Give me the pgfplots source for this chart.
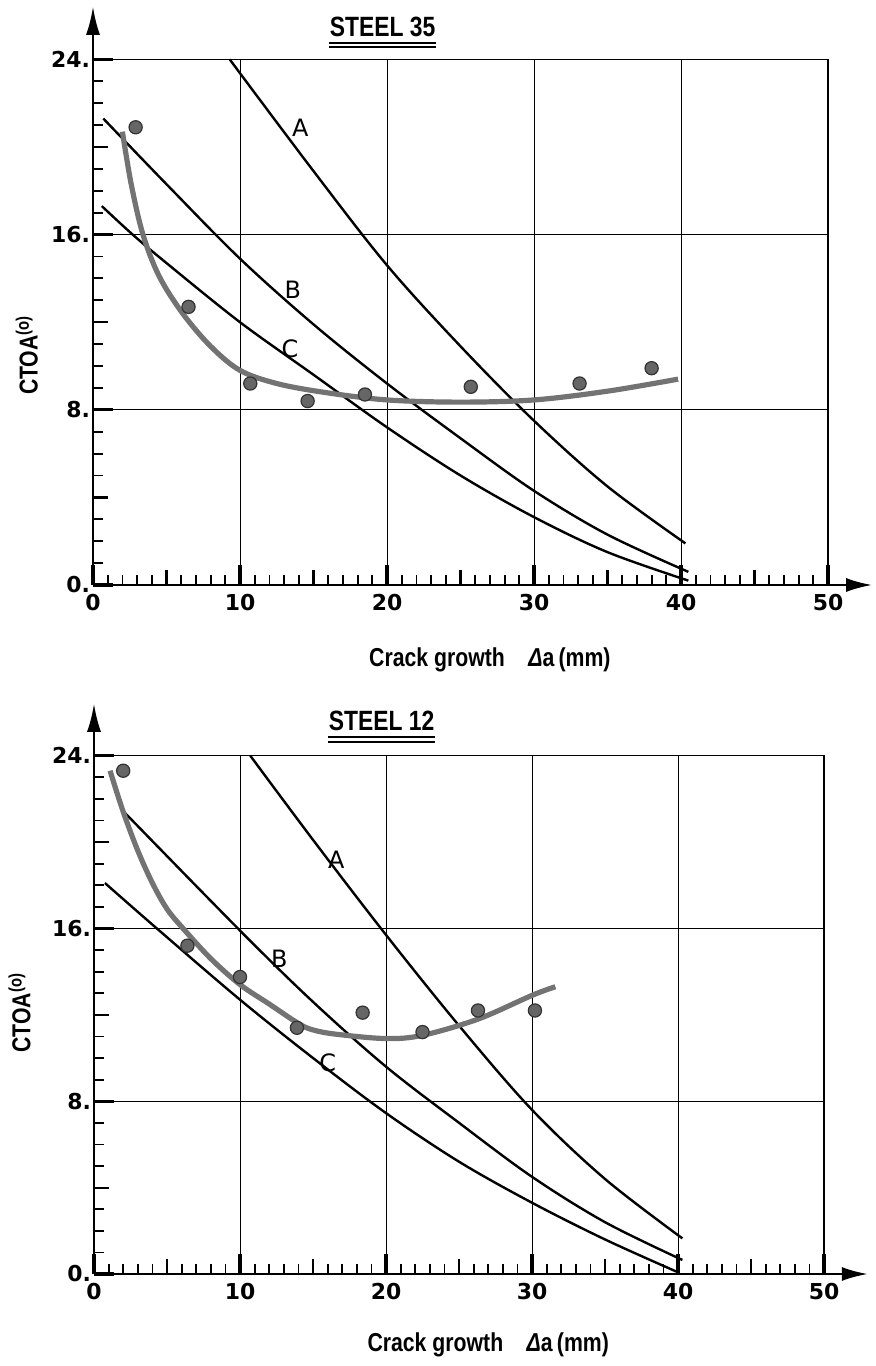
\documentclass[border=0pt]{standalone}
\usepackage{fontspec}
\setmainfont{DejaVu Sans}
\newfontfamily\condfont{Liberation Sans}[FakeStretch=0.82]
\usepackage{pgfplots}
\pgfplotsset{compat=1.18}
\usetikzlibrary{arrows.meta}
\tikzset{gridl/.style={line width=0.45bp}}

\pgfplotsset{
 steel/.style={
  anchor=south west,
  xmin=0, xmax=53, ymin=0, ymax=26.4,
  axis lines=left,
  axis line style={line width=1.1bp},
  x axis line style={-{Latex[length=13bp,width=7bp]}},
  y axis line style={-{Latex[length=14bp,width=7bp]}},
  xtick={0,10,20,30,40,50}, xticklabels={0,10,20,30,40,50},
  ytick={0,8,16,24}, yticklabels={0.,8.,16.,24.},
  minor x tick num=9, minor y tick num=7,
  extra x ticks={5,15,25,35,45}, extra x tick labels={},
  extra y ticks={4,12,20}, extra y tick labels={},
  extra tick style={major tick length=7.5bp, every major tick/.style={black, line width=1.1bp}},
  tick align=inside,
  major tick length=10bp, minor tick length=5bp,
  every major tick/.style={black, line width=1.6bp},
  every minor tick/.style={black, line width=0.9bp},
  ticklabel style={font=\bfseries\fontsize{11}{12}\selectfont},
  xticklabel style={yshift=-1bp},
  yticklabel style={xshift=2bp},
  clip=false,
 },
 fitc/.style={black!55, line width=2.6bp, smooth, tension=0.55},
 thc/.style={black, line width=1.2bp, smooth, tension=0.55},
 pts/.style={only marks, mark=*, mark size=3.3bp, mark options={fill=black!60, draw=black!80, line width=0.6bp}},
}

\begin{document}
\begin{tikzpicture}
\useasboundingbox (-46.5bp,-390.5bp) rectangle (391.5bp,292.5bp);

% ---------------- STEEL 35 ----------------
\begin{axis}[steel, at={(0,0)}, x=7.35bp, y=10.95bp]
\draw[line width=0.7bp] (axis cs:0,24) -- (axis cs:50,24) -- (axis cs:50,0);
\draw[gridl] (axis cs:10,0) -- (axis cs:10,24);
\draw[gridl] (axis cs:20,0) -- (axis cs:20,24);
\draw[gridl] (axis cs:30,0) -- (axis cs:30,24);
\draw[gridl] (axis cs:40,0) -- (axis cs:40,24);
\draw[gridl] (axis cs:0,8) -- (axis cs:50,8);
\draw[gridl] (axis cs:0,16) -- (axis cs:50,16);

\addplot[thc] coordinates {(9.3,24) (15,18.9) (20,14.6) (25,10.9) (30,7.5) (35,4.5) (40.3,1.9)};
\addplot[thc] coordinates {(0.7,21.3) (5,18.3) (10,14.9) (15,11.9) (20,9.2) (25,6.7) (30,4.3) (35,2.3) (40.5,0.6)};
\addplot[thc] coordinates {(0.6,17.3) (2.7,16) (5,14.7) (10,12.0) (15,9.6) (20,7.2) (25,5.0) (30,3.1) (35,1.5) (40.5,0.2)};
\addplot[fitc] coordinates {(2.0,20.7) (2.6,18.3) (3.4,16) (4.5,14.1) (6.1,12.4) (8,10.9) (10,9.8) (12.5,9.2) (15.7,8.8) (20,8.45) (25,8.35) (30,8.45) (35,8.85) (39.8,9.4)};
\addplot[pts] coordinates {(2.9,20.9) (6.5,12.7) (10.7,9.2) (14.6,8.4) (18.5,8.7) (25.7,9.05) (33.1,9.2) (38.0,9.9)};

\node[font=\fontsize{12}{12}\selectfont] at (axis cs:14.1,20.9) {A};
\node[font=\fontsize{12}{12}\selectfont] at (axis cs:13.6,13.5) {B};
\node[font=\fontsize{12}{12}\selectfont] at (axis cs:13.4,10.8) {C};

\node[inner sep=0pt, font=\condfont\bfseries\fontsize{14}{14}\selectfont] (t1) at (axis cs:19.7,25.5) {STEEL 35};
\draw[line width=1.1bp] ([yshift=-3bp]t1.south west) -- ([yshift=-3bp]t1.south east);
\draw[line width=0.8bp] ([yshift=-5.2bp]t1.south west) -- ([yshift=-5.2bp]t1.south east);

\node[font=\condfont\bfseries\fontsize{13}{13}\selectfont] at (axis cs:27,-3.4) {Crack growth\hspace{0.9em}\textit{Δ}a\,(mm)};
\node[rotate=90, font=\condfont\bfseries\fontsize{13}{13}\selectfont] at (axis cs:-4.5,10.5) {CTOA\textsuperscript{(o)}};
\end{axis}

% ---------------- STEEL 12 ----------------
\begin{axis}[steel, at={(0.5bp,-344.5bp)}, x=7.3bp, y=10.8bp]
\draw[line width=0.7bp] (axis cs:0,24) -- (axis cs:50,24) -- (axis cs:50,0);
\draw[gridl] (axis cs:10,0) -- (axis cs:10,24);
\draw[gridl] (axis cs:20,0) -- (axis cs:20,24);
\draw[gridl] (axis cs:30,0) -- (axis cs:30,24);
\draw[gridl] (axis cs:40,0) -- (axis cs:40,24);
\draw[gridl] (axis cs:0,8) -- (axis cs:50,8);
\draw[gridl] (axis cs:0,16) -- (axis cs:50,16);

\addplot[thc] coordinates {(10.7,24) (15,20.1) (20,15.7) (25,11.5) (30,7.6) (35,4.4) (40.3,1.65)};
\addplot[thc] coordinates {(1.9,21.5) (10,15.9) (15,12.6) (20,9.6) (25,7.0) (30,4.5) (35,2.4) (40.3,0.65)};
\addplot[thc] coordinates {(0.75,18.1) (4.3,16) (10,12.7) (15,10.0) (20,7.45) (25,5.2) (30,3.3) (35,1.6) (40.1,0.05)};
\addplot[fitc] coordinates {(1.1,23.3) (2.0,21.4) (3.0,19.6) (4.0,18.1) (5.0,16.9) (6.1,16) (8,14.6) (10,13.4) (12,12.5) (14,11.6) (15,11.3) (16.6,11.1) (20,10.9) (22.5,11.05) (26.3,11.8) (30,12.9) (31.6,13.3)};
\addplot[pts] coordinates {(2.0,23.3) (6.4,15.2) (10.0,13.75) (13.9,11.4) (18.4,12.1) (22.5,11.2) (26.3,12.2) (30.2,12.2)};

\node[font=\fontsize{12}{12}\selectfont] at (axis cs:16.6,19.2) {A};
\node[font=\fontsize{12}{12}\selectfont] at (axis cs:12.7,14.6) {B};
\node[font=\fontsize{12}{12}\selectfont] at (axis cs:16.0,9.8) {C};

\node[inner sep=0pt, font=\condfont\bfseries\fontsize{14}{14}\selectfont] (t2) at (axis cs:19.7,25.6) {STEEL 12};
\draw[line width=1.1bp] ([yshift=-3bp]t2.south west) -- ([yshift=-3bp]t2.south east);
\draw[line width=0.8bp] ([yshift=-5.2bp]t2.south west) -- ([yshift=-5.2bp]t2.south east);

\node[font=\condfont\bfseries\fontsize{13}{13}\selectfont] at (axis cs:27,-3.3) {Crack growth\hspace{0.9em}\textit{Δ}a\,(mm)};
\node[rotate=90, font=\condfont\bfseries\fontsize{13}{13}\selectfont] at (axis cs:-5.1,12.1) {CTOA\textsuperscript{(o)}};
\end{axis}
\end{tikzpicture}
\end{document}
